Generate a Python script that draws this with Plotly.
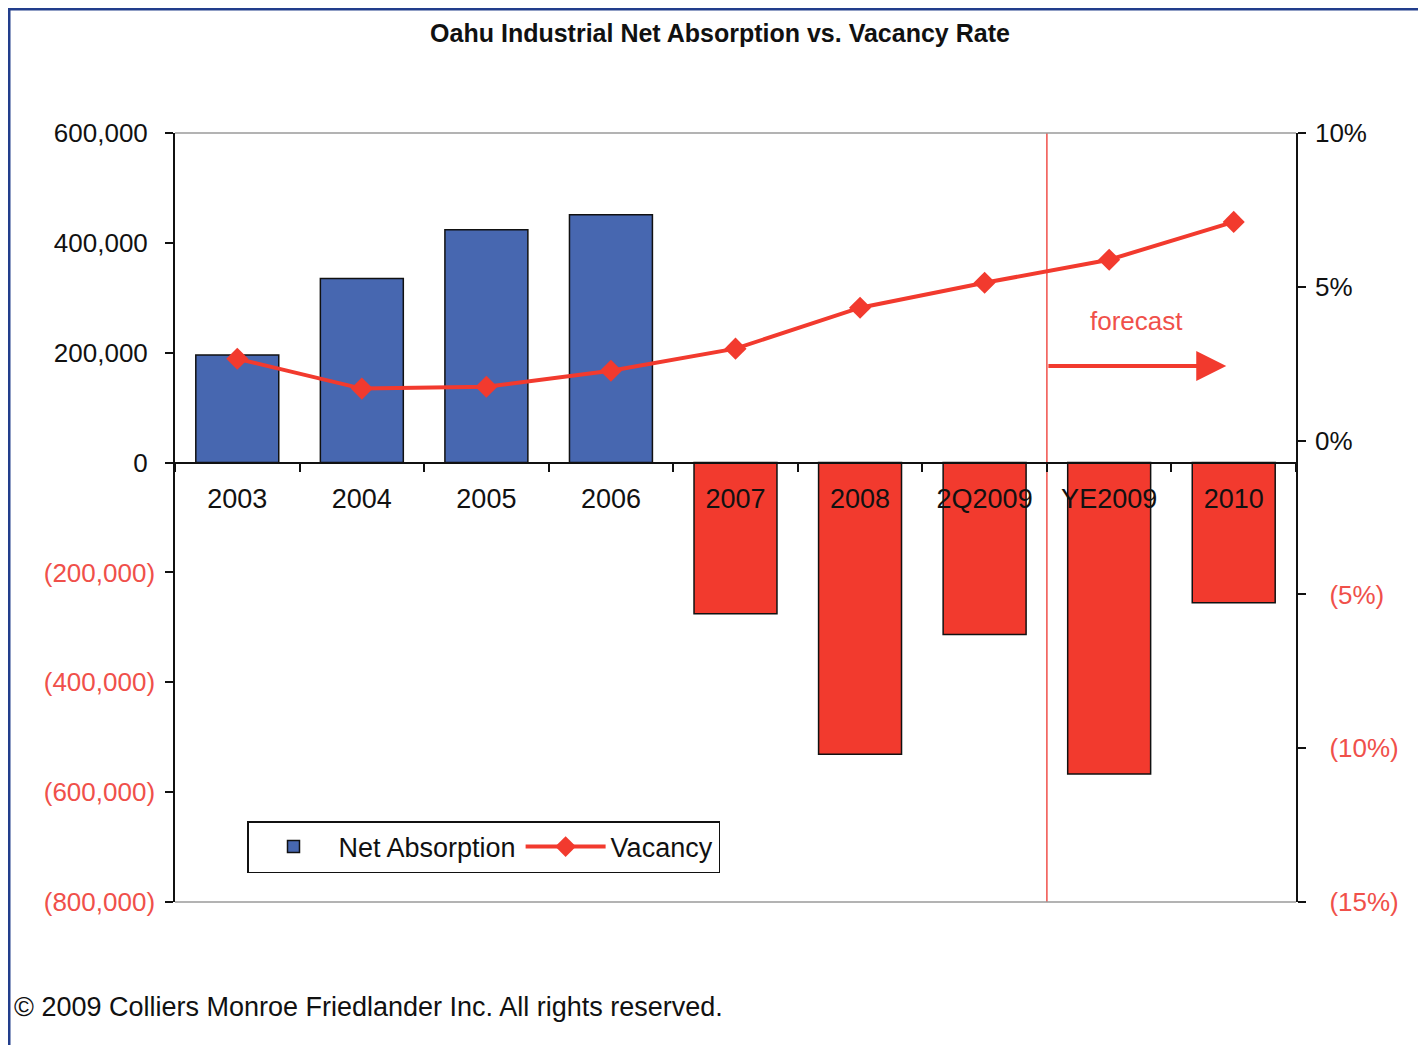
import plotly.graph_objects as go

# ---- data ----
categories = ["2003", "2004", "2005", "2006", "2007", "2008", "2Q2009", "YE2009", "2010"]
net_absorption = [196000, 335000, 424000, 451000, -275000, -531000, -313000, -567000, -255000]
vacancy_pct = [2.66, 1.69, 1.75, 2.27, 2.99, 4.32, 5.13, 5.88, 7.11]

left_ticks = [-800000, -600000, -400000, -200000, 0, 200000, 400000, 600000]
right_ticks = [-15, -10, -5, 0, 5, 10]

# ---- styling ----
OFF = 8                      # page body margin
W, H = 1426 - OFF, 1045 - OFF
L, T = 175 - OFF, 133 - OFF
R, B = 1426 - 1296, 1045 - 902
pw, ph = W - L - R, H - T - B
FONT = "Liberation Sans, Arial, sans-serif"
BLUE = "#4767B0"
RED = "#F23A2E"
LRED = "#F0504A"
NAVY = "#223E8C"

def px_x(px):  # reference screen px -> paper
    return (px - OFF - L) / pw

def px_y(py):
    return (H - B - (py - OFF)) / ph

ymin, ymax = left_ticks[0], left_ticks[-1]

def fmt_left(v):
    if v < 0:
        return f'<span style="color:{LRED}">({abs(v):,})</span>'
    return f"{v:,}\u00a0"

def fmt_right(v):
    if v < 0:
        return f'<span style="color:{LRED}">\u00a0\u00a0({abs(v)}%)</span>'
    return f"{v}%"

bar_colors = [BLUE if v >= 0 else RED for v in net_absorption]

fig = go.Figure()
fig.add_trace(go.Bar(
    x=categories, y=net_absorption, name="Net Absorption",
    marker=dict(color=bar_colors, line=dict(color="#111111", width=1.5)),
    yaxis="y",
))
fig.add_trace(go.Scatter(
    x=categories, y=vacancy_pct, name="Vacancy", mode="lines+markers",
    line=dict(color=RED, width=4),
    marker=dict(symbol="diamond", size=17, color=RED),
    yaxis="y2",
))

shapes = [
    dict(type="line", xref="paper", yref="paper", x0=0, x1=1, y0=1, y1=1,
         line=dict(color="#9A9A9A", width=1.5)),
    dict(type="line", xref="paper", yref="paper", x0=0, x1=1, y0=0, y1=0,
         line=dict(color="#9A9A9A", width=1.5)),
    dict(type="line", xref="x", yref="paper", x0=6.5, x1=6.5, y0=0, y1=1,
         line=dict(color=LRED, width=1.5), layer="below"),
    # page border (left & top)
    dict(type="line", xref="paper", yref="paper", x0=px_x(OFF + 1), x1=px_x(OFF + 1),
         y0=px_y(OFF), y1=px_y(1045 + 20), line=dict(color=NAVY, width=3)),
    dict(type="line", xref="paper", yref="paper", x0=px_x(OFF), x1=px_x(1426 + 20),
         y0=px_y(OFF + 1), y1=px_y(OFF + 1), line=dict(color=NAVY, width=3)),
]

annotations = [
    dict(x=7.94, y=176000, xref="x", yref="y", ax=6.5, ay=176000, axref="x", ayref="y",
         text="", showarrow=True, arrowhead=2, arrowsize=1.5, arrowwidth=4, arrowcolor=RED),
    dict(x=7.22, y=258000, xref="x", yref="y", text="forecast", showarrow=False,
         font=dict(family=FONT, size=26, color=LRED)),
    dict(x=px_x(12), y=px_y(1007), xref="paper", yref="paper", xanchor="left", yanchor="middle",
         text="\u00a9 2009 Colliers Monroe Friedlander Inc. All rights reserved.",
         showarrow=False, font=dict(family=FONT, size=27, color="#111111")),
]

fig.update_layout(
    width=W, height=H,
    margin=dict(l=L, r=R, t=T, b=B),
    paper_bgcolor="white", plot_bgcolor="white",
    font=dict(family=FONT, size=26, color="#111111"),
    title=dict(text="<b>Oahu Industrial Net Absorption vs. Vacancy Rate</b>",
               x=(720 - OFF) / W, xanchor="center", y=1 - (33 - OFF) / H, yanchor="middle",
               font=dict(family=FONT, size=25, color="#111111")),
    bargap=0.334,
    showlegend=True,
    legend=dict(orientation="h", x=px_x(247), y=px_y(847), xanchor="left", yanchor="middle",
                bordercolor="#111111", borderwidth=1.5, bgcolor="white",
                font=dict(family=FONT, size=27, color="#111111"),
                itemwidth=80),
    xaxis=dict(
        anchor="free", position=(0 - ymin) / (ymax - ymin),
        showline=True, linecolor="#111111", linewidth=1.5,
        ticks="outside", tickson="boundaries", ticklen=9, tickcolor="#111111", tickwidth=1.5,
        ticklabelstandoff=12,
        tickfont=dict(family=FONT, size=27, color="#111111"),
        showgrid=False, zeroline=False, range=[-0.5, len(categories) - 0.5],
    ),
    yaxis=dict(
        range=[ymin, ymax], tickvals=left_ticks, ticktext=[fmt_left(v) for v in left_ticks],
        showline=True, linecolor="#111111", linewidth=1.5,
        ticks="outside", ticklen=8, tickcolor="#111111", tickwidth=1.5,
        ticklabelstandoff=5,
        showgrid=False, zeroline=False,
        tickfont=dict(family=FONT, size=26, color="#111111"),
    ),
    yaxis2=dict(
        overlaying="y", side="right", range=[right_ticks[0], right_ticks[-1]],
        tickvals=right_ticks, ticktext=[fmt_right(v) for v in right_ticks],
        showline=True, linecolor="#111111", linewidth=1.5,
        ticks="outside", ticklen=8, tickcolor="#111111", tickwidth=1.5,
        ticklabelstandoff=4,
        showgrid=False, zeroline=False,
        tickfont=dict(family=FONT, size=26, color="#111111"),
    ),
    shapes=shapes,
    annotations=annotations,
)

fig.write_html("out.html")
